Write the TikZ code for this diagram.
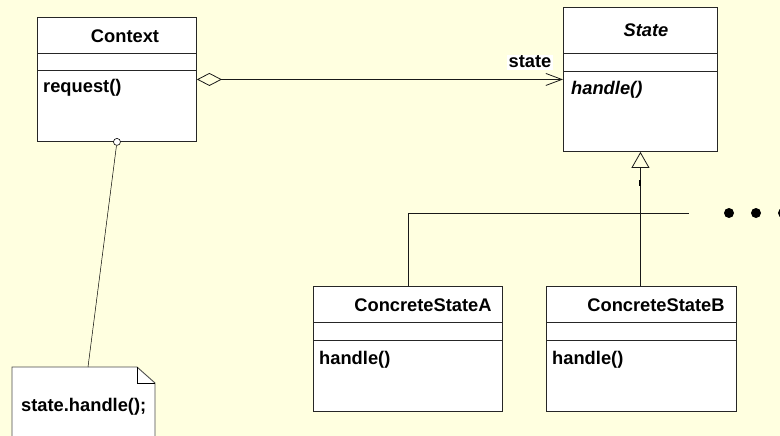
\documentclass[tikz,border=0pt]{standalone}
\usepackage{fontspec}
\setmainfont{Liberation Sans}
\usetikzlibrary{arrows.meta}
\definecolor{bgyellow}{RGB}{255,255,224}
\begin{document}
\begin{tikzpicture}[x=1pt, y=-1pt, font=\fontsize{18.3}{20}\selectfont\bfseries,
        classbox/.style={draw=black!85, fill=white, line width=0.9pt, anchor=north west, inner sep=0pt},
        title/.style={anchor=base, inner sep=0pt},
        oper/.style={anchor=base west, inner sep=0pt},
        sep/.style={draw=black!85, line width=0.9pt},
        link/.style={draw=black!90, line width=0.8pt}]
        \useasboundingbox (0,0) rectangle (780,436);
        \fill[bgyellow] (0,0) rectangle (780,436);

        % classes
        \node[classbox, minimum width=159pt, minimum height=124pt] (ctx) at (37,17) {};
        \draw[sep] (37,53) -- (196,53);
        \draw[sep] (37,70) -- (196,70);
        \node[title] (ctxname) at (125,43) {Context};
        \node[oper] (ctxop) at (43,93) {request()};

        \node[classbox, minimum width=154pt, minimum height=144pt] (state) at (563,7) {};
        \draw[sep] (563,53) -- (717,53);
        \draw[sep] (563,71) -- (717,71);
        \node[title] (statename) at (646,37) {\itshape State};
        \node[oper] (stateop) at (571,95) {\itshape handle()};

        \node[classbox, minimum width=189pt, minimum height=125pt] (csa) at (313,286) {};
        \draw[sep] (313,322) -- (502,322);
        \draw[sep] (313,340) -- (502,340);
        \node[title] (csaname) at (423,311) {ConcreteStateA};
        \node[oper] (csaop) at (319,364) {handle()};

        \node[classbox, minimum width=190pt, minimum height=125pt] (csb) at (546,286) {};
        \draw[sep] (546,322) -- (736,322);
        \draw[sep] (546,340) -- (736,340);
        \node[title] (csbname) at (656,311) {ConcreteStateB};
        \node[oper] (csbop) at (552,364) {handle()};

        % association
        \draw[link, {Diamond[open, length=25pt, width=13pt]}-{Straight Barb[length=16pt, width=12pt]}] (ctx.east) -- (state.west);
        \node[anchor=base west, fill=white, inner sep=1.5pt] (rolename) at (507,68) {state};

        % generalization
        \coordinate (branch) at (689,213);
        \draw[link, -{Triangle[open, length=16pt, width=18pt]}] (state.south |- csb.north) -- (state.south);
        \draw[line width=2pt] (640,180) -- (640,186);
        \draw[link] (csa.north) |- (branch);
        \foreach \x in {729,756,783}
            \fill (\x,213) circle (5pt);

        % note
        \draw[draw=black!70, fill=white, line width=0.9pt] (12,367) -- (137,367) -- (155,383) -- (155,445) -- (12,445) -- cycle;
        \draw[line width=0.8pt] (137,367) -- (137,383) -- (155,383);
        \node[oper] (notetext) at (21,411) {state.handle();};
        \coordinate (notetop) at (88,367);
        \node[circle, draw, fill=white, inner sep=0pt, minimum size=7pt, line width=0.6pt] (knot) at (ctx.south) {};
        \draw[line width=0.5pt] (knot) -- (notetop);
\end{tikzpicture}
\end{document}
